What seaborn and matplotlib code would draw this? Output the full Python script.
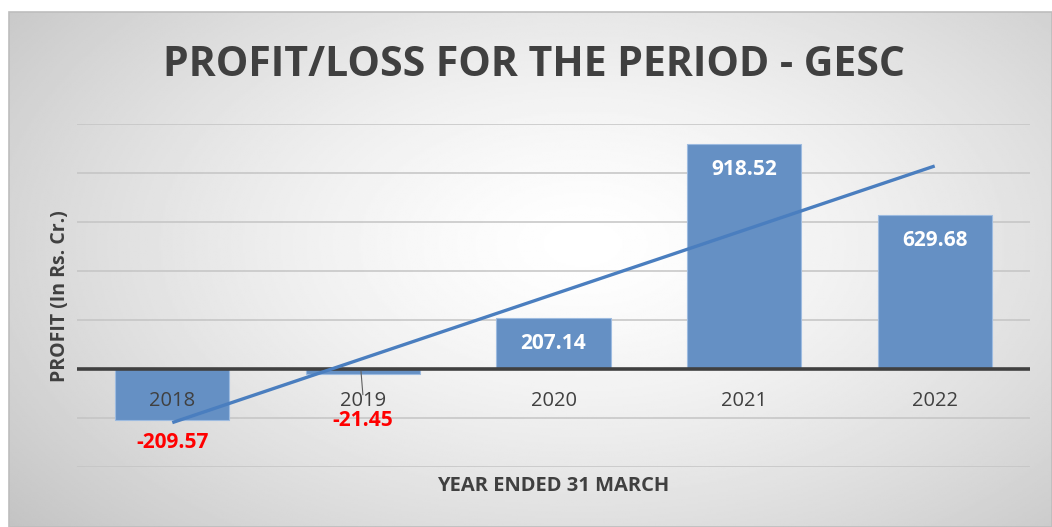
import numpy as np
import pandas as pd
import matplotlib
matplotlib.use("Agg")
import matplotlib.pyplot as plt
import seaborn as sns

years = ["2018", "2019", "2020", "2021", "2022"]
profit = [-209.57, -21.45, 207.14, 918.52, 629.68]
title = "PROFIT/LOSS FOR THE PERIOD - GESC"
ylabel = "PROFIT (In Rs. Cr.)"
xlabel = "YEAR ENDED 31 MARCH"

sns.set_style("white")
plt.rcParams['font.family'] = ['Open Sans', 'DejaVu Sans']

W, H = 1052, 527
fig = plt.figure(figsize=(W / 100, H / 100), dpi=100)

# radial gradient background for the chart area
bg = fig.add_axes([9 / W, 0, 1 - 9 / W, 1 - 12 / H])
gy, gx = np.mgrid[0:1:300j, 0:1:600j]
r = np.sqrt(((gx - 0.55) / 0.75) ** 2 + ((gy - 0.45) / 0.9) ** 2)
shade = 1.0 - 0.25 * np.clip(r, 0, 1) ** 1.4
bg.imshow(shade, cmap="gray", vmin=0, vmax=1, aspect="auto", extent=[0, 1, 0, 1])
bg.axis("off")
fig.patches.append(plt.Rectangle((9 / W, 0), 1 - 9 / W, 1 - 12 / H, transform=fig.transFigure,
                                 fill=False, edgecolor="#bdbdbd", linewidth=1.2))

ax = fig.add_axes([77 / W, 1 - 467 / H, (1030 - 77) / W, (467 - 124) / H])
ax.patch.set_alpha(0)

df = pd.DataFrame({"Year": years, "Profit": profit})
sns.barplot(data=df, x="Year", y="Profit", color="#6590C4", saturation=1, width=0.6,
            edgecolor="#9dbbe0", linewidth=0.8, ax=ax, zorder=2)

ax.set_ylim(-400, 1000)
ax.set_xlim(-0.5, 4.5)
ax.set_yticks(np.arange(-400, 1001, 200))
ax.yaxis.grid(True, color="#c4c4c4", linewidth=1.1, zorder=0)
ax.set_axisbelow(True)
ax.axhline(0, color="#404040", linewidth=2.6, zorder=3)
for s in ax.spines.values():
    s.set_visible(False)
ax.tick_params(left=False, bottom=False, labelleft=False, labelbottom=False)
ax.set_xlabel("")
ax.set_ylabel("")

# linear trendline
xs = np.arange(len(profit))
k, b = np.polyfit(xs, profit, 1)
ax.plot(xs, k * xs + b, color="#4A7EBF", linewidth=2.4, zorder=4, solid_capstyle="butt")

# category labels just under the zero line
for i, yr in enumerate(years):
    ax.text(i, -130, yr, ha="center", va="center", fontsize=14.5, color="#404040", zorder=5)

# data labels
for i, v in enumerate(profit):
    if v > 0:
        ax.text(i, v - 105, f"{v:.2f}", ha="center", va="center", fontsize=15,
                fontweight="bold", color="white", zorder=5)
    else:
        ax.text(i, v - 92 if v < -100 else -210, f"{v:.2f}", ha="center", va="center",
                fontsize=15, fontweight="bold", color="red", zorder=5)
ax.plot([0.99, 1.0], [-10, -105], color="#606060", linewidth=0.8, zorder=5)

fig.text(0.508, 1 - 66 / H, title, ha="center", va="center", fontsize=29.5,
         fontweight="bold", color="#404040")
fig.text(60 / W, 1 - 296 / H, ylabel, ha="center", va="center", rotation=90,
         fontsize=14, fontweight="bold", color="#404040")
fig.text(553 / W, 1 - 486 / H, xlabel, ha="center", va="center", fontsize=14.5,
         fontweight="bold", color="#404040")

fig.savefig("out.png", dpi=100)
